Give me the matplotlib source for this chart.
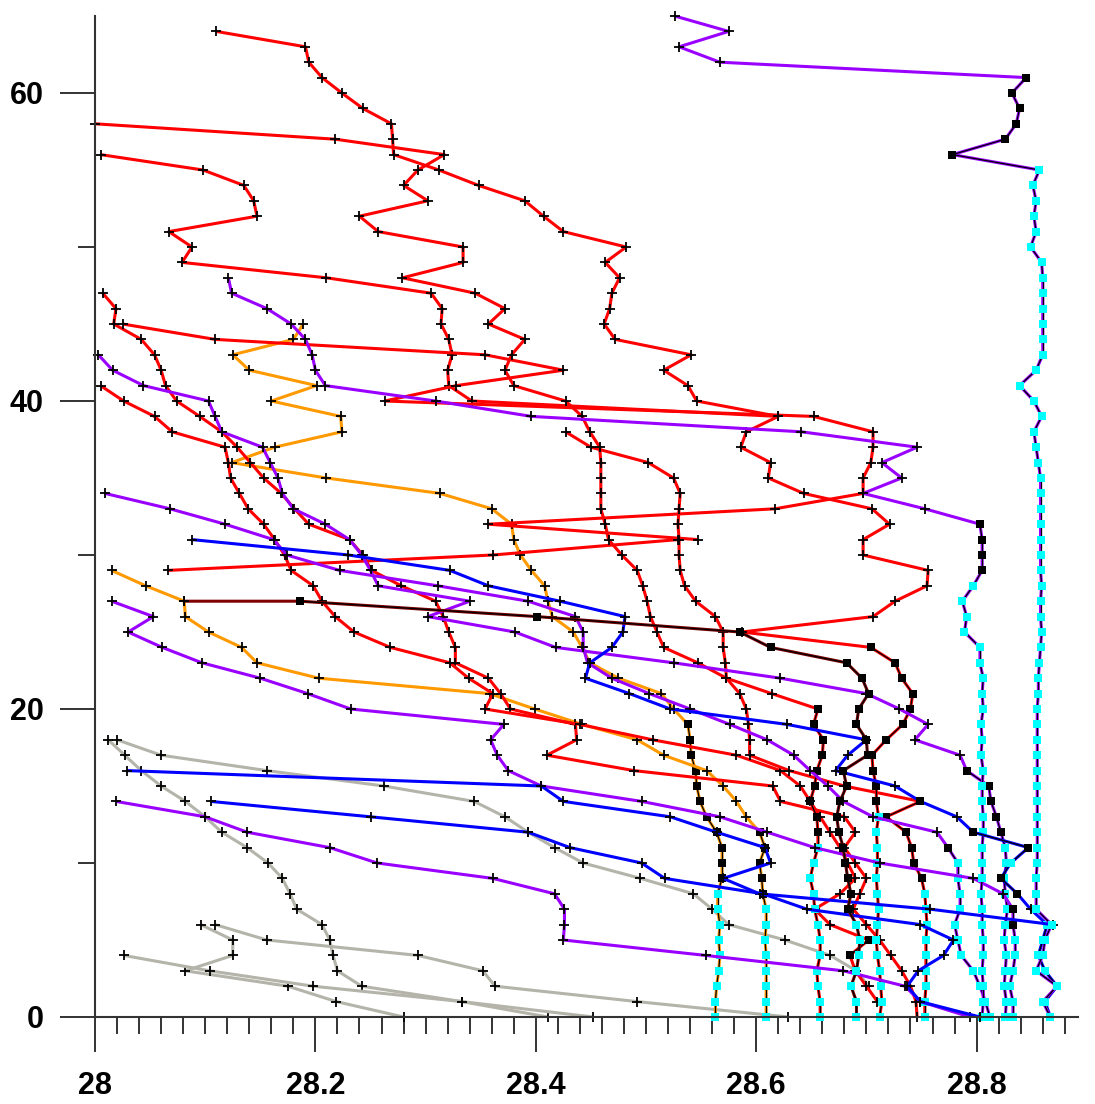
import matplotlib.pyplot as plt

# temperature profiles: x = temperature, y = depth
# flag per point: 0 = '+', 1 = black square, 2 = cyan square

p1_temp = [28.526, 28.575, 28.530, 28.567, 28.845, 28.832, 28.839, 28.836, 28.826, 28.778,
           28.857, 28.851, 28.854, 28.852, 28.854, 28.849, 28.859, 28.860, 28.860, 28.860,
           28.860, 28.860, 28.860, 28.854, 28.839, 28.852, 28.859, 28.852, 28.854, 28.856,
           28.858, 28.858, 28.858, 28.858, 28.858, 28.858, 28.858, 28.859, 28.858, 28.858,
           28.859, 28.858, 28.857, 28.856, 28.856, 28.855, 28.855, 28.855, 28.855, 28.855,
           28.855, 28.855, 28.855, 28.855, 28.855, 28.855, 28.854, 28.854, 28.854, 28.868,
           28.862, 28.860, 28.854, 28.873, 28.860, 28.867]
p1_depth = [65, 64, 63, 62, 61, 60, 59, 58, 57, 56, 55, 54, 53, 52, 51, 50, 49, 48, 47, 46,
            45, 44, 43, 42, 41, 40, 39, 38, 37, 36, 35, 34, 33, 32, 31, 30, 29, 28, 27, 26,
            25, 24, 23, 22, 21, 20, 19, 18, 17, 16, 15, 14, 13, 12, 11, 10, 9, 8, 7, 6,
            5, 4, 3, 2, 1, 0]
p1_flag = "0000111111" + "2" * 56

p2_temp = [28.121, 28.124, 28.156, 28.178, 28.191, 28.197, 28.200, 28.209, 28.309, 28.396,
           28.641, 28.746, 28.714, 28.732, 28.697, 28.753, 28.803, 28.805, 28.805, 28.805,
           28.797, 28.787, 28.791, 28.789, 28.803, 28.803, 28.806, 28.805, 28.806, 28.804,
           28.805, 28.804, 28.806, 28.805, 28.805, 28.806, 28.806, 28.805, 28.805, 28.805,
           28.804, 28.805, 28.805, 28.806, 28.806, 28.805, 28.806, 28.806, 28.805]
p2_depth = [48, 47, 46, 45, 44, 43, 42, 41, 40, 39, 38, 37, 36, 35, 34, 33, 32, 31, 30, 29,
            28, 27, 26, 25, 24, 23, 22, 21, 20, 19, 18, 17, 16, 15, 14, 13, 12, 11, 10, 9,
            8, 7, 6, 5, 4, 3, 2, 1, 0]
p2_flag = "0" * 16 + "1111" + "2" * 29

p3_temp = [28.003, 28.016, 28.044, 28.103, 28.109, 28.115, 28.152, 28.159, 28.166, 28.170,
           28.180, 28.209, 28.231, 28.242, 28.250, 28.257, 28.340, 28.302, 28.381, 28.418,
           28.525, 28.622, 28.700, 28.730, 28.756, 28.744, 28.785, 28.791, 28.811, 28.813,
           28.818, 28.822, 28.826, 28.827, 28.825, 28.826, 28.828, 28.826, 28.825, 28.827,
           28.826, 28.825, 28.827, 28.826]
p3_depth = [43, 42, 41, 40, 39, 38, 37, 36, 35, 34, 33, 32, 31, 30, 29, 28, 27, 26, 25, 24,
            23, 22, 21, 20, 19, 18, 17, 16, 15, 14, 13, 12, 11, 10, 9, 8, 7, 6, 5, 4,
            3, 2, 1, 0]
p3_flag = "0" * 27 + "1" * 5 + "2" * 12

p4_temp = [28.009, 28.068, 28.118, 28.162, 28.174, 28.222, 28.311, 28.393, 28.436, 28.443,
           28.443, 28.447, 28.469, 28.503, 28.540, 28.576, 28.610, 28.634, 28.649, 28.665,
           28.679, 28.706, 28.764, 28.774, 28.783, 28.783, 28.785, 28.785, 28.780, 28.783,
           28.786, 28.797, 28.803, 28.808, 28.812]
p4_depth = [34, 33, 32, 31, 30, 29, 28, 27, 26, 25, 24, 23, 22, 21, 20, 19, 18, 17, 16, 15,
            14, 13, 12, 11, 10, 9, 8, 7, 6, 5, 4, 3, 2, 1, 0]
p4_flag = "0" * 23 + "1" + "2" * 11

p5_temp = [28.015, 28.053, 28.030, 28.061, 28.097, 28.150, 28.193, 28.232, 28.371, 28.359,
           28.365, 28.375, 28.405, 28.496, 28.567, 28.610, 28.653, 28.712, 28.797, 28.824,
           28.833, 28.833, 28.835, 28.835, 28.833, 28.830, 28.833, 28.833]
p5_depth = [27, 26, 25, 24, 23, 22, 21, 20, 19, 18, 17, 16, 15, 14, 13, 12, 11, 10, 9, 8,
            7, 6, 5, 4, 3, 2, 1, 0]
p5_flag = "0" * 20 + "11" + "2" * 6

p6_temp = [28.019, 28.100, 28.138, 28.213, 28.256, 28.361, 28.417, 28.426, 28.426, 28.425,
           28.554, 28.679, 28.735, 28.749, 28.794]
p6_depth = [14, 13, 12, 11, 10, 9, 8, 7, 6, 5, 4, 3, 2, 1, 0]
p6_flag = "0" * 15

r1_temp = [28.110, 28.191, 28.194, 28.206, 28.224, 28.243, 28.269, 28.270, 28.271, 28.312,
           28.348, 28.390, 28.407, 28.425, 28.482, 28.463, 28.476, 28.469, 28.467, 28.462,
           28.472, 28.541, 28.516, 28.538, 28.546, 28.620, 28.591, 28.586, 28.613, 28.611,
           28.643, 28.705, 28.721, 28.697, 28.697, 28.756, 28.755, 28.726, 28.706, 28.587,
           28.704, 28.726, 28.732, 28.742, 28.740, 28.733, 28.718, 28.705, 28.706, 28.709,
           28.709, 28.711, 28.709, 28.710, 28.710, 28.709, 28.710, 28.711, 28.710, 28.709,
           28.710, 28.712, 28.713, 28.714, 28.712]
r1_depth = [64, 63, 62, 61, 60, 59, 58, 57, 56, 55, 54, 53, 52, 51, 50, 49, 48, 47, 46, 45,
            44, 43, 42, 41, 40, 39, 38, 37, 36, 35, 34, 33, 32, 31, 30, 29, 28, 27, 26, 25,
            24, 23, 22, 21, 20, 19, 18, 17, 16, 15, 14, 13, 12, 11, 10, 9, 8, 7, 6, 5,
            4, 3, 2, 1, 0]
r1_flag = "0" * 40 + "1" * 11 + "2" * 14

r2_temp = [28.000, 28.218, 28.317, 28.293, 28.280, 28.302, 28.240, 28.257, 28.334, 28.334,
           28.279, 28.345, 28.372, 28.357, 28.390, 28.378, 28.372, 28.380, 28.427, 28.442,
           28.449, 28.458, 28.459, 28.459, 28.459, 28.459, 28.463, 28.466, 28.478, 28.492,
           28.497, 28.501, 28.504, 28.510, 28.516, 28.547, 28.573, 28.614, 28.656, 28.652,
           28.661, 28.660, 28.655, 28.653, 28.649, 28.655, 28.656, 28.656, 28.652, 28.649,
           28.652, 28.653, 28.656, 28.658, 28.658, 28.655, 28.656, 28.658, 28.658]
r2_depth = [58, 57, 56, 55, 54, 53, 52, 51, 50, 49, 48, 47, 46, 45, 44, 43, 42, 41, 40, 39,
            38, 37, 36, 35, 34, 33, 32, 31, 30, 29, 28, 27, 26, 25, 24, 23, 22, 21, 20, 19,
            18, 17, 16, 15, 14, 13, 12, 11, 10, 9, 8, 7, 6, 5, 4, 3, 2, 1, 0]
r2_flag = "0" * 38 + "1" * 9 + "2" * 12

r3_temp = [28.005, 28.098, 28.135, 28.144, 28.147, 28.067, 28.088, 28.079, 28.210, 28.305,
           28.315, 28.314, 28.321, 28.324, 28.320, 28.321, 28.342, 28.620]
r3_depth = [56, 55, 54, 53, 52, 51, 50, 49, 48, 47, 46, 45, 44, 43, 42, 41, 40, 39]
r3_flag = "0" * 18

r4_temp = [28.007, 28.019, 28.017, 28.042, 28.054, 28.060, 28.064, 28.074, 28.095, 28.115,
           28.129, 28.141, 28.153, 28.169, 28.181, 28.194, 28.231, 28.243, 28.251, 28.278,
           28.309, 28.316, 28.321, 28.327, 28.327, 28.357, 28.368, 28.377, 28.436, 28.437,
           28.410, 28.489, 28.615, 28.622, 28.680, 28.690, 28.680, 28.690, 28.700, 28.694,
           28.688, 28.700, 28.712, 28.722, 28.732, 28.740, 28.745, 28.746]
r4_depth = [47, 46, 45, 44, 43, 42, 41, 40, 39, 38, 37, 36, 35, 34, 33, 32, 31, 30, 29, 28,
            27, 26, 25, 24, 23, 22, 21, 20, 19, 18, 17, 16, 15, 14, 13, 12, 11, 10, 9, 8,
            7, 6, 5, 4, 3, 2, 1, 0]
r4_flag = "0" * 48

r5_temp = [28.025, 28.109, 28.354, 28.425, 28.328, 28.263, 28.652, 28.706, 28.706, 28.704,
           28.697, 28.697, 28.617, 28.357, 28.547]
r5_depth = [45, 44, 43, 42, 41, 40, 39, 38, 37, 36, 35, 34, 33, 32, 31]
r5_flag = "0" * 15

r6_temp = [28.005, 28.026, 28.054, 28.070, 28.118, 28.121, 28.123, 28.131, 28.139, 28.153,
           28.163, 28.172, 28.178, 28.198, 28.206, 28.218, 28.235, 28.268, 28.322, 28.339,
           28.361, 28.354, 28.440, 28.506, 28.582, 28.622, 28.640, 28.649, 28.658, 28.667,
           28.676, 28.683, 28.690, 28.676, 28.653, 28.667, 28.702, 28.685, 28.690, 28.700,
           28.710]
r6_depth = [41, 40, 39, 38, 37, 36, 35, 34, 33, 32, 31, 30, 29, 28, 27, 26, 25, 24, 23, 22,
            21, 20, 19, 18, 17, 16, 15, 14, 13, 12, 11, 10, 9, 8, 7, 6, 5, 4, 3, 2,
            1]
r6_flag = "0" * 36 + "11" + "000"

r7_temp = [28.427, 28.450, 28.502, 28.525, 28.531, 28.530, 28.529, 28.530, 28.530, 28.531,
           28.535, 28.545, 28.563, 28.570, 28.570, 28.572, 28.573, 28.585, 28.591, 28.593,
           28.594, 28.594, 28.630, 28.680, 28.749, 28.718, 28.736, 28.741, 28.743, 28.750,
           28.753, 28.754, 28.755, 28.754, 28.754, 28.754, 28.754, 28.753, 28.753]
r7_depth = [38, 37, 36, 35, 34, 33, 32, 31, 30, 29, 28, 27, 26, 25, 24, 23, 22, 21, 20, 19,
            18, 17, 16, 15, 14, 13, 12, 11, 10, 9, 8, 7, 6, 5, 4, 3, 2, 1, 0]
r7_flag = "0" * 24 + "1" * 6 + "2" * 9

r8_temp = [28.066, 28.361, 28.529]
r8_depth = [29, 30, 31]
r8_flag = "000"

o1_temp = [28.189, 28.180, 28.125, 28.140, 28.201, 28.160, 28.223, 28.224, 28.163, 28.124,
           28.210, 28.313, 28.360, 28.378, 28.380, 28.386, 28.396, 28.408, 28.411, 28.415,
           28.434, 28.442, 28.449, 28.475, 28.514, 28.525, 28.538, 28.540, 28.541, 28.545,
           28.546, 28.549, 28.555, 28.564, 28.569, 28.569, 28.569, 28.565, 28.565, 28.567,
           28.566, 28.567, 28.566, 28.564, 28.563, 28.563]
o1_depth = [45, 44, 43, 42, 41, 40, 39, 38, 37, 36, 35, 34, 33, 32, 31, 30, 29, 28, 27, 26,
            25, 24, 23, 22, 21, 20, 19, 18, 17, 16, 15, 14, 13, 12, 11, 10, 9, 8, 7, 6,
            5, 4, 3, 2, 1, 0]
o1_flag = "0" * 26 + "1" * 11 + "2" * 9

o2_temp = [28.015, 28.046, 28.081, 28.082, 28.103, 28.133, 28.147, 28.203, 28.358, 28.399,
           28.442, 28.492, 28.516, 28.555, 28.570, 28.582, 28.591, 28.603, 28.608, 28.603,
           28.605, 28.606, 28.609, 28.609, 28.608, 28.609, 28.609, 28.609, 28.609, 28.609]
o2_depth = [29, 28, 27, 26, 25, 24, 23, 22, 21, 20, 19, 18, 17, 16, 15, 14, 13, 12, 11, 10,
            9, 8, 7, 6, 5, 4, 3, 2, 1, 0]
o2_flag = "0" * 17 + "1" * 5 + "2" * 8

k1_temp = [28.081, 28.186, 28.401, 28.585, 28.613, 28.682, 28.696, 28.702, 28.693, 28.691,
           28.700, 28.701, 28.679, 28.682, 28.676, 28.673, 28.675, 28.679, 28.681, 28.683,
           28.686, 28.683, 28.691, 28.694, 28.693, 28.691, 28.686, 28.691, 28.691]
k1_depth = [27, 27, 26, 25, 24, 23, 22, 21, 20, 19, 18, 17, 16, 15, 14, 13, 12, 11, 10, 9,
            8, 7, 6, 5, 4, 3, 2, 1, 0]
k1_flag = "0" + "1" * 21 + "2" * 7

b1_temp = [28.088, 28.230, 28.322, 28.357, 28.422, 28.481, 28.479, 28.469, 28.449, 28.445,
           28.485, 28.522, 28.628, 28.700, 28.683, 28.672, 28.726, 28.749, 28.782, 28.797,
           28.847, 28.831, 28.822, 28.837, 28.849, 28.864, 28.860, 28.856, 28.862, 28.873,
           28.862, 28.867]
b1_depth = [31, 30, 29, 28, 27, 26, 25, 24, 23, 22, 21, 20, 19, 18, 17, 16, 15, 14, 13, 12,
            11, 10, 9, 8, 7, 6, 5, 4, 3, 2, 1, 0]
b1_flag = "0" * 17 + "1011211" + "0" + "2" * 7

b2_temp = [28.029, 28.405, 28.425, 28.522, 28.564, 28.608, 28.613, 28.570, 28.603, 28.758,
           28.869]
b2_depth = [16, 15, 14, 13, 12, 11, 10, 9, 8, 7, 6]
b2_flag = "0" * 11

b3_temp = [28.105, 28.250, 28.393, 28.431, 28.496, 28.517, 28.606, 28.646, 28.749, 28.779,
           28.770, 28.747, 28.737, 28.749, 28.803]
b3_depth = [14, 13, 12, 11, 10, 9, 8, 7, 6, 5, 4, 3, 2, 1, 0]
b3_flag = "0" * 15

g1_temp = [28.012, 28.027, 28.042, 28.060, 28.082, 28.100, 28.115, 28.138, 28.157, 28.170,
           28.177, 28.183, 28.206, 28.213, 28.216, 28.220, 28.242, 28.333, 28.411]
g1_depth = [18, 17, 16, 15, 14, 13, 12, 11, 10, 9, 8, 7, 6, 5, 4, 3, 2, 1, 0]
g1_flag = "0" * 19

g2_temp = [28.020, 28.060, 28.156, 28.262, 28.344, 28.372, 28.393, 28.417, 28.443, 28.495,
           28.543, 28.560, 28.575, 28.626, 28.667, 28.691, 28.702]
g2_depth = [18, 17, 16, 15, 14, 13, 12, 11, 10, 9, 8, 7, 6, 5, 4, 3, 2]
g2_flag = "0" * 17

g3_temp = [28.096, 28.125, 28.125, 28.082, 28.175, 28.219, 28.280]
g3_depth = [6, 5, 4, 3, 2, 1, 0]
g3_flag = "0" * 7

g4_temp = [28.109, 28.156, 28.293, 28.352, 28.363, 28.492, 28.629]
g4_depth = [6, 5, 4, 3, 2, 1, 0]
g4_flag = "0" * 7

g5_temp = [28.026, 28.104, 28.198, 28.333, 28.452]
g5_depth = [4, 3, 2, 1, 0]
g5_flag = "0" * 5

RED = "#ff0000"
PURPLE = "#9900ff"
ORANGE = "#ff9900"
BLUE = "#0000ff"
GRAY = "#b4b4aa"
MAROON = "#800000"

profiles = [
    (g1_temp, g1_depth, g1_flag, GRAY),
    (g2_temp, g2_depth, g2_flag, GRAY),
    (g3_temp, g3_depth, g3_flag, GRAY),
    (g4_temp, g4_depth, g4_flag, GRAY),
    (g5_temp, g5_depth, g5_flag, GRAY),
    (o1_temp, o1_depth, o1_flag, ORANGE),
    (o2_temp, o2_depth, o2_flag, ORANGE),
    (r3_temp, r3_depth, r3_flag, RED),
    (r4_temp, r4_depth, r4_flag, RED),
    (r5_temp, r5_depth, r5_flag, RED),
    (r6_temp, r6_depth, r6_flag, RED),
    (r7_temp, r7_depth, r7_flag, RED),
    (r8_temp, r8_depth, r8_flag, RED),
    (r1_temp, r1_depth, r1_flag, RED),
    (r2_temp, r2_depth, r2_flag, RED),
    (p3_temp, p3_depth, p3_flag, PURPLE),
    (p4_temp, p4_depth, p4_flag, PURPLE),
    (p5_temp, p5_depth, p5_flag, PURPLE),
    (p6_temp, p6_depth, p6_flag, PURPLE),
    (p2_temp, p2_depth, p2_flag, PURPLE),
    (b1_temp, b1_depth, b1_flag, BLUE),
    (b2_temp, b2_depth, b2_flag, BLUE),
    (b3_temp, b3_depth, b3_flag, BLUE),
    (k1_temp, k1_depth, k1_flag, MAROON),
    (p1_temp, p1_depth, p1_flag, PURPLE),
]

W, H = 1095, 1104
fig = plt.figure(figsize=(W / 100, H / 100), dpi=100)
ax = fig.add_axes([95 / W, 87 / H, 983 / W, 1001 / H])

for i, (t, d, flag, col) in enumerate(profiles):
    z = 2 + i * 0.01
    ax.plot(t, d, color=col, lw=2.2, zorder=z, solid_capstyle="butt")
    # segments between flagged points get a thin black line on top
    for j in range(len(t) - 1):
        if flag[j] != "0" and flag[j + 1] != "0":
            ax.plot(t[j:j + 2], d[j:j + 2], color="black", lw=0.9, zorder=z + 0.001)
    plus = [j for j in range(len(t)) if flag[j] == "0"]
    blk = [j for j in range(len(t)) if flag[j] == "1"]
    cyn = [j for j in range(len(t)) if flag[j] == "2"]
    ax.plot([t[j] for j in plus], [d[j] for j in plus], "+", color="black",
            ms=7.5, mew=1.3, zorder=z + 0.002, clip_on=False)
    ax.plot([t[j] for j in blk], [d[j] for j in blk], "s", color="black",
            ms=5.8, mew=0, zorder=z + 0.003, clip_on=False)
    ax.plot([t[j] for j in cyn], [d[j] for j in cyn], "s", color="#00ffff",
            ms=6.3, mew=0, zorder=z + 0.003, clip_on=False)

ax.set_xlim(28, 28.892)
ax.set_ylim(0, 65)

for s in ["top", "right"]:
    ax.spines[s].set_visible(False)
for s in ["left", "bottom"]:
    ax.spines[s].set_color("#333333")
    ax.spines[s].set_linewidth(1.5)
    ax.spines[s].set_zorder(10)

xt = [28, 28.2, 28.4, 28.6, 28.8]
ax.set_xticks(xt)
ax.set_xticklabels(["28", "28.2", "28.4", "28.6", "28.8"])
ax.set_xticks([28 + 0.02 * k for k in range(45)], minor=True)
ax.set_yticks([0, 20, 40, 60])
ax.set_yticklabels(["0", "20", "40", "60"])
ax.set_yticks([10, 30, 50], minor=True)

ax.tick_params(which="major", length=25, width=1.4, color="#333333")
ax.tick_params(which="minor", length=12.5, width=1.4, color="#333333")
ax.tick_params(axis="x", which="major", pad=14)
ax.tick_params(axis="y", which="major", pad=12)
for lab in ax.get_xticklabels() + ax.get_yticklabels():
    lab.set_fontfamily("Liberation Sans")
    lab.set_fontweight("bold")
    lab.set_fontsize(22)

fig.savefig("out.png", dpi=100)
